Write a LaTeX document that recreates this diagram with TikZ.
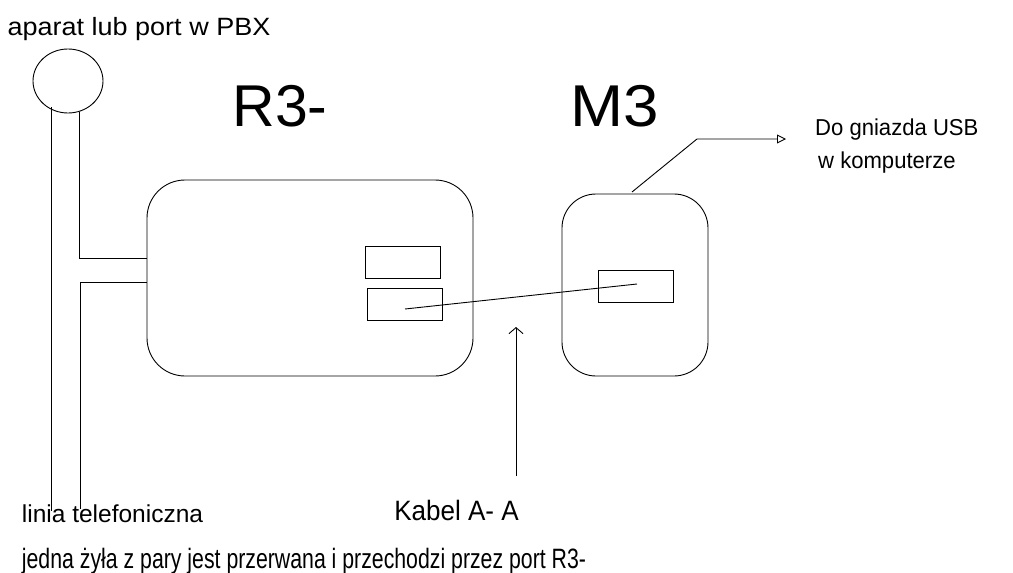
\documentclass[tikz,border=0pt]{standalone}
\usepackage{graphicx}
\usepackage{fontspec}
\setmainfont{Liberation Sans}
\usetikzlibrary{arrows.meta,shapes.geometric}
\begin{document}
\begin{tikzpicture}[x=1pt,y=-1pt,
  line/.style={line width=0.9pt},
  lbl/.style={inner sep=0pt, anchor=base},
  port/.style={draw, line width=0.9pt, minimum width=75pt, minimum height=32pt, inner sep=0pt},
  device/.style={draw, line width=0.9pt, rounded corners=38pt, inner sep=0pt}]
\useasboundingbox (0,0) rectangle (1013,573);
% labels
\node[lbl, font=\fontsize{25}{28}\selectfont] (pbxlbl) at (139,35.7) {\scalebox{1.08}[1]{aparat lub port w PBX}};
\node[lbl, font=\fontsize{59}{66}\selectfont] (r3lbl) at (280,126.7) {R3-};
\node[lbl, font=\fontsize{59}{66}\selectfont] (m3lbl) at (615,126.7) {\scalebox{1.08}[1]{M3}};
\node[lbl, anchor=base west, font=\fontsize{23}{26}\selectfont] (usblbl1) at (815,135) {\scalebox{0.96}[1]{Do gniazda USB}};
\node[lbl, anchor=base west, font=\fontsize{23}{26}\selectfont] (usblbl2) at (818,168) {\scalebox{0.96}[1]{w komputerze}};
\node[lbl, font=\fontsize{24.5}{28}\selectfont] (linelbl) at (112.5,522) {linia telefoniczna};
\node[lbl, font=\fontsize{28}{32}\selectfont] (kabellbl) at (456.5,520) {\scalebox{0.93}[1]{Kabel A- A}};
\node[lbl, font=\fontsize{28}{32}\selectfont] (notelbl) at (304,568.3) {\scalebox{0.76}[1]{jedna żyła z pary jest przerwana i przechodzi przez port R3-}};
% phone
\node[draw, line width=0.9pt, ellipse, minimum width=70pt, minimum height=64pt, inner sep=0pt] (phone) at (68,81) {};
% devices
\node[device, minimum width=326pt, minimum height=196pt] (r3) at (310,278) {};
\node[device, minimum width=146pt, minimum height=182pt, rounded corners=34pt] (m3) at (635,285) {};
% ports
\node[port] (p1) at (402.5,262) {};
\node[port] (p2) at (404.5,304) {};
\node[port] (pm) at (636,286) {};
% telephone wires
\coordinate (wl) at (51,107);
\coordinate (wr) at (79,112);
\draw[line] (wl) -- (51,511);
\draw[line] (wr) -- (79,258) -- (r3.west |- 0,258);
\draw[line] (r3.west |- 0,282) -- (80,282) -- (80,509);
% cable
\coordinate (c1) at (405,309);
\coordinate (c2) at (637,284);
\draw[line] (c1) -- (c2);
% arrow to cable
\coordinate (kab) at (516,476);
\draw[line, -{Straight Barb[length=6pt,width=14pt]}] (kab) -- (516,327);
% USB
\coordinate (u1) at (632,192);
\draw[line, -{Triangle[open,length=9pt,width=9pt]}] (u1) -- (697,139) -- (786,139);
\end{tikzpicture}
\end{document}
